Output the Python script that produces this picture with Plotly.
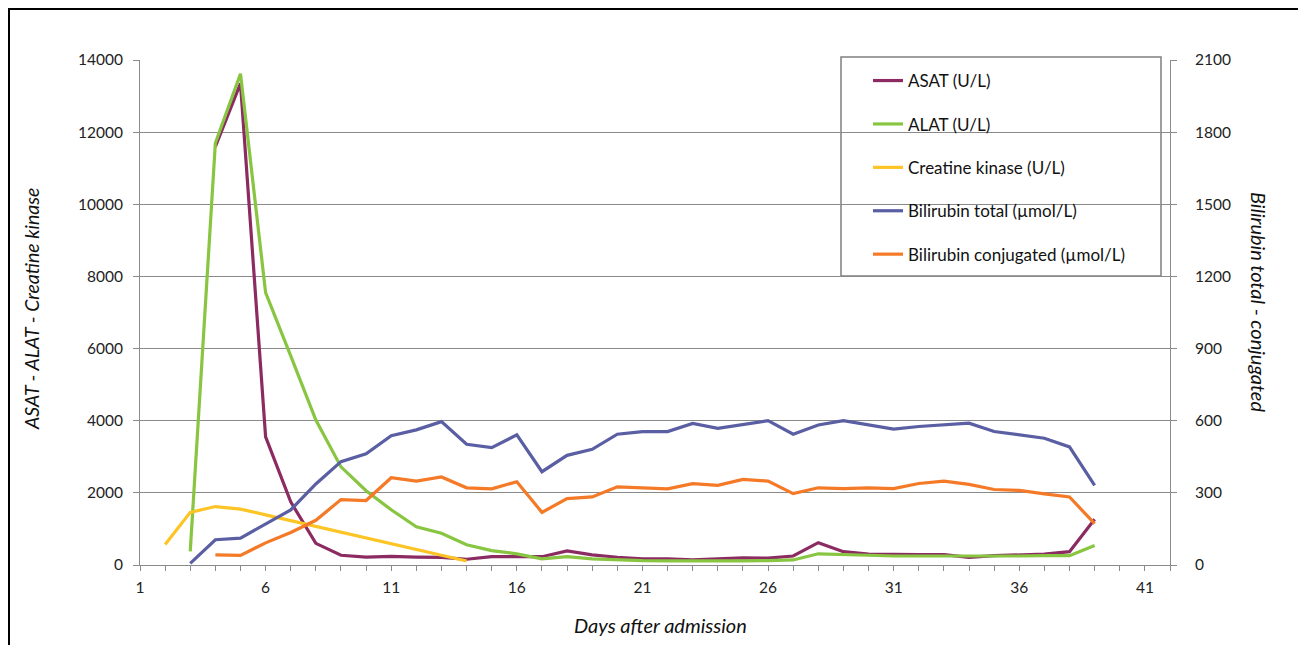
import plotly.graph_objects as go

days = list(range(1, 40))

def series(start, vals):
    out = [None] * (start - 1) + list(vals)
    return out + [None] * (len(days) - len(out))

asat_start = 4
asat_vals = [11600, 13350, 3550, 1750, 600, 270, 220, 240, 220, 210, 160, 230, 230, 230,
             390, 280, 215, 170, 170, 140, 170, 200, 190, 250, 620, 370, 305, 290, 290,
             290, 210, 260, 280, 300, 370, 1270]
alat_start = 3
alat_vals = [380, 11700, 13620, 7550, 5800, 4020, 2720, 2060, 1530, 1060, 880, 560, 400,
             310, 170, 230, 170, 140, 120, 115, 110, 110, 115, 120, 140, 310, 300, 270,
             250, 250, 250, 235, 235, 250, 260, 260, 540]
ck_start = 2
ck_vals = [570, 1460, 1620, 1550, 1390, 1230, 1070, 920, 750, 590, 420, 270, 110]
bili_tot_start = 3
bili_tot_vals = [7, 105, 112, 172, 229, 337, 430, 462, 538, 562, 596, 502, 488, 541, 388,
                 456, 481, 544, 555, 555, 589, 568, 583, 600, 544, 582, 600, 582, 565, 576,
                 583, 590, 555, 541, 527, 491, 331]
bili_conj_start = 4
bili_conj_vals = [42, 40, 92, 135, 186, 272, 268, 363, 349, 366, 321, 317, 346, 219, 276,
                  283, 325, 321, 317, 338, 331, 356, 349, 297, 321, 318, 321, 318, 339,
                  349, 335, 314, 310, 296, 283, 172]

names = ["ASAT (U/L)", "ALAT (U/L)", "Creatine kinase (U/L)",
         "Bilirubin total (µmol/L)", "Bilirubin conjugated (µmol/L)"]
colors = ["#8B2B62", "#88C540", "#FDC425", "#5A5EA2", "#F47A28"]

data = [series(asat_start, asat_vals), series(alat_start, alat_vals),
        series(ck_start, ck_vals), series(bili_tot_start, bili_tot_vals),
        series(bili_conj_start, bili_conj_vals)]
axes = ["y", "y", "y", "y2", "y2"]

fig = go.Figure()
for i in range(5):
    fig.add_trace(go.Scatter(x=days, y=data[i], name=names[i], mode="lines",
                             line=dict(color=colors[i], width=3.2),
                             yaxis=axes[i], legendgroup=str(i),
                             connectgaps=False))

# page offset of the figure (body margin)
OFF = 8
# plot area geometry in page pixels: x 140..1170, y 60..565
W, H = 1298, 637
L, T = 140 - OFF, 60 - OFF
pw, ph = 1170 - 140, 565 - 60
R = W - L - pw
B = H - T - ph

def px(x):
    return (x - OFF - L) / pw

def py(y):
    return (H - B - (y - OFF)) / ph

font_main = "Lato, 'Open Sans', sans-serif"
grid = "#8a8a8a"
tickfont = dict(size=15.5, color="#222")

fig.update_layout(
    width=W, height=H,
    margin=dict(l=L, r=R, t=T, b=B),
    paper_bgcolor="white", plot_bgcolor="white",
    font=dict(family=font_main, size=15, color="#222"),
    showlegend=True,
    legend=dict(x=px(868), y=py(63), xanchor="left", yanchor="top",
                bgcolor="rgba(0,0,0,0)", borderwidth=0,
                font=dict(size=17, color="#111"),
                traceorder="grouped", tracegroupgap=18.3,
                itemwidth=30),
    xaxis=dict(range=[1, 42], tickmode="linear", tick0=1, dtick=5,
               ticks="outside", ticklen=5, tickcolor=grid,
               minor=dict(dtick=1, tick0=1, ticks="outside", ticklen=5, tickcolor=grid),
               showgrid=False, zeroline=False,
               showline=True, linecolor=grid, linewidth=1,
               ticklabelstandoff=3, tickfont=tickfont),
    yaxis=dict(range=[0, 14000], tickmode="linear", tick0=0, dtick=2000,
               tickformat="d",
               showgrid=True, gridcolor=grid, gridwidth=1,
               ticks="outside", ticklen=6, tickcolor=grid,
               showline=True, linecolor=grid, linewidth=1, zeroline=False,
               ticklabelstandoff=7, tickfont=tickfont),
    yaxis2=dict(range=[0, 2100], tickmode="linear", tick0=0, dtick=300,
                tickformat="d",
                overlaying="y", side="right", showgrid=False, zeroline=False,
                ticks="outside", ticklen=6, tickcolor=grid,
                showline=True, linecolor=grid, linewidth=1,
                ticklabelstandoff=15, tickfont=tickfont),
    shapes=[
        dict(type="rect", xref="paper", yref="paper",
             x0=px(841), x1=px(1161), y0=py(276), y1=py(57),
             line=dict(color="#7f7f7f", width=1.5), fillcolor="rgba(0,0,0,0)",
             layer="below"),
        dict(type="rect", xref="paper", yref="paper",
             x0=px(OFF + 1), x1=px(OFF + W - 1), y0=py(OFF + H + 5), y1=py(OFF + 1),
             line=dict(color="black", width=2), fillcolor="rgba(0,0,0,0)"),
    ],
    annotations=[
        dict(text="<i>Days after admission</i>", xref="paper", yref="paper",
             x=px(660), y=py(625), showarrow=False, xanchor="center", yanchor="middle",
             font=dict(size=20, color="#111")),
        dict(text="<i>ASAT - ALAT - Creatine kinase</i>", xref="paper", yref="paper",
             x=px(31), y=py(309), showarrow=False, textangle=-90,
             xanchor="center", yanchor="middle", font=dict(size=19.5, color="#111")),
        dict(text="<i>Bilirubin total - conjugated</i>", xref="paper", yref="paper",
             x=px(1259), y=py(302), showarrow=False, textangle=90,
             xanchor="center", yanchor="middle", font=dict(size=20, color="#111")),
    ],
)

fig.write_html("out.html")
